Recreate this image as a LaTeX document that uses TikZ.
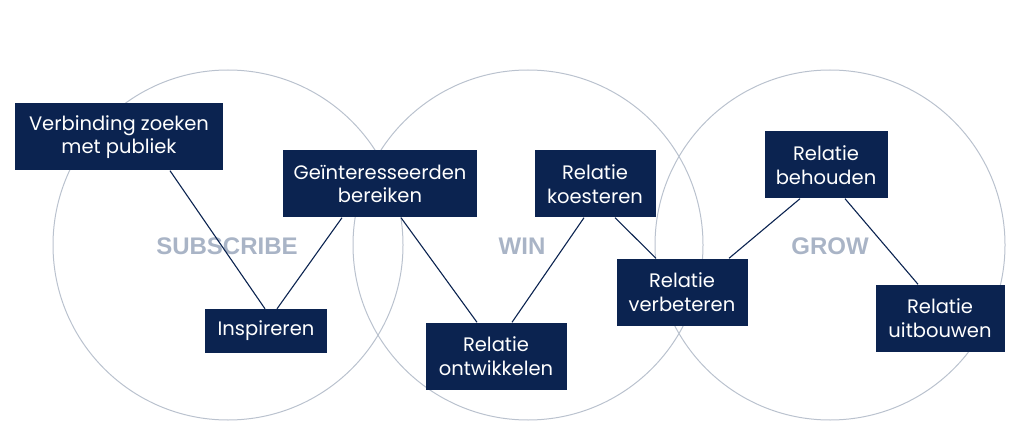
\documentclass[tikz,border=0pt]{standalone}
\usepackage{fontspec}
\setmainfont{Poppins}
\newfontfamily\labelfont{Liberation Sans}
\usepackage{tikz}

\definecolor{navy}{HTML}{0B2350}
\definecolor{ringgray}{HTML}{BAC2CE}
\definecolor{phasegray}{HTML}{A9B4C6}

\begin{document}
\begin{tikzpicture}[
    x=1pt, y=-1pt,
    ring/.style={draw=ringgray, line width=1pt},
    phase/.style={font=\labelfont\bfseries\fontsize{24}{28}\selectfont, text=phasegray},
    stepbox/.style={fill=navy, text=white, align=center, inner sep=0pt, minimum height=67pt, font=\fontsize{19.5}{23.5}\selectfont},
    link/.style={draw=navy, line width=1.1pt}
]
\useasboundingbox (0,0) rectangle (1024,430);

% de drie fasen
\draw[ring] (228,245) circle[radius=175];
\draw[ring] (528,245) circle[radius=175];
\draw[ring] (830,245) circle[radius=175];

\node[phase] (subscribe) at (227,246) {SUBSCRIBE};
\node[phase] (win)       at (522,246) {WIN};
\node[phase] (grow)      at (830,246) {GROW};

% stappen
\node[stepbox, minimum width=208pt] (zoeken)     at (119,137) {Verbinding zoeken\\met publiek};
\node[stepbox, minimum width=194pt] (bereiken)   at (380,184) {Geïnteresseerden\\bereiken};
\node[stepbox, minimum width=122pt, minimum height=44pt] (inspireren) at (266,331) {Inspireren};
\node[stepbox, minimum width=141pt] (ontwikkelen) at (496,356) {Relatie\\ontwikkelen};
\node[stepbox, minimum width=121pt] (koesteren)  at (595,184) {Relatie\\koesteren};
\node[stepbox, minimum width=131pt] (verbeteren) at (682,292) {Relatie\\verbeteren};
\node[stepbox, minimum width=123pt] (behouden)   at (826,165) {Relatie\\behouden};
\node[stepbox, minimum width=129pt] (uitbouwen)  at (940,318) {Relatie\\uitbouwen};

% verbindingen
\draw[link] ([xshift=51pt]zoeken.south)     -- ([xshift=-1pt]inspireren.north);
\draw[link] ([xshift=11pt]inspireren.north) -- ([xshift=-38pt]bereiken.south);
\draw[link] ([xshift=21pt]bereiken.south)   -- ([xshift=-19pt]ontwikkelen.north);
\draw[link] ([xshift=16pt]ontwikkelen.north) -- ([xshift=-11pt]koesteren.south);
\draw[link] ([xshift=20pt]koesteren.south)  -- ([xshift=-26pt]verbeteren.north);
\draw[link] ([xshift=47pt]verbeteren.north) -- ([xshift=-26pt]behouden.south);
\draw[link] ([xshift=19pt]behouden.south)   -- ([xshift=-22pt]uitbouwen.north);
\end{tikzpicture}
\end{document}
